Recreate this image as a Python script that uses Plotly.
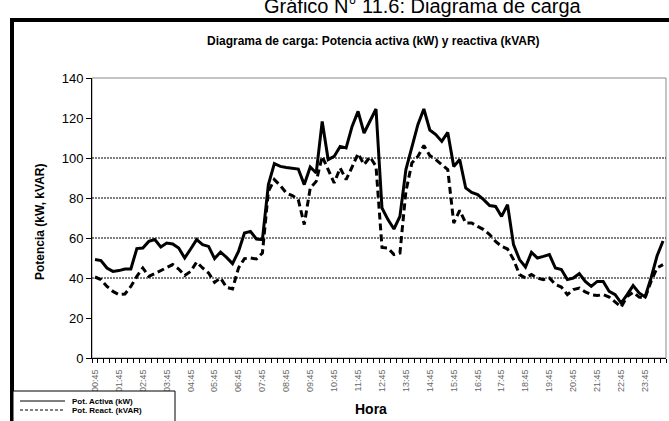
import plotly.graph_objects as go

# ---------------- data ----------------
horas = [f"{((45 + 15 * i) // 60) % 24:02d}:{(45 + 15 * i) % 60:02d}" for i in range(96)]
etiquetas_x = [h if i % 4 == 0 else "" for i, h in enumerate(horas)]

activa = [49.2, 48.7, 45.0, 43.3, 43.7, 44.5, 44.5, 54.7, 55.0, 58.3,
          59.2, 55.5, 57.5, 57.0, 55.0, 50.0, 54.5, 59.2, 56.7, 55.8,
          49.7, 53.0, 50.3, 47.2, 53.3, 62.5, 63.3, 59.5, 59.2, 86.7,
          97.2, 95.8, 95.3, 95.0, 94.5, 86.7, 95.5, 92.5, 118.3, 99.2,
          100.8, 105.8, 105.0, 115.8, 123.3, 112.5, 118.3, 124.5, 75.0, 69.2,
          64.5, 70.8, 94.2, 105.0, 116.7, 124.5, 114.0, 111.7, 108.3, 112.8,
          95.8, 99.2, 85.0, 82.8, 81.7, 79.2, 76.2, 75.8, 70.8, 76.7,
          56.7, 49.2, 45.5, 52.8, 50.0, 50.8, 51.7, 45.0, 44.2, 39.2,
          40.0, 42.2, 38.3, 35.8, 38.3, 38.3, 33.3, 31.7, 27.5, 31.7,
          36.2, 32.5, 30.5, 40.0, 51.0, 58.5]

reactiva = [40.5, 39.2, 35.8, 33.3, 31.7, 32.0, 35.8, 40.8, 45.0, 40.8,
            42.2, 43.8, 45.5, 46.7, 44.5, 41.2, 43.3, 48.0, 45.0, 42.5,
            37.8, 40.0, 35.3, 34.5, 45.0, 49.7, 50.0, 49.5, 52.5, 83.3,
            89.2, 86.2, 82.5, 81.2, 79.2, 66.7, 85.0, 88.3, 100.8, 94.2,
            87.5, 95.0, 89.2, 95.5, 102.2, 96.7, 100.5, 95.8, 55.3, 55.0,
            51.7, 52.5, 83.3, 97.5, 100.8, 106.2, 101.2, 99.2, 96.7, 94.2,
            67.5, 73.8, 67.5, 67.5, 65.8, 64.2, 61.7, 58.3, 55.8, 54.5,
            49.2, 41.7, 40.0, 41.7, 40.0, 39.2, 40.0, 36.7, 35.5, 31.7,
            34.2, 35.0, 33.0, 31.7, 31.2, 31.7, 30.5, 27.8, 25.5, 30.8,
            32.8, 30.5, 30.0, 38.3, 45.0, 46.7]

series_names = ["Pot. Activa (kW)", "Pot. React. (kVAR)"]
y_ticks = [0, 20, 40, 60, 80, 100, 120, 140]
grid_y = [40, 60, 80, 100]

# ---------------- layout geometry ----------------
W, H = 669, 421
ML, MR, MT, MB = 92, 3, 78, 63
PW, PH = W - ML - MR, H - MT - MB


def px(x):
    return (x - ML) / PW


def py(y):
    return (H - MB - y) / PH


FONT = "Arial, Liberation Sans, sans-serif"
DASH_MAIN = "7px,4px"

fig = go.Figure()
fig.add_trace(go.Scatter(x=horas, y=activa, mode="lines", name=series_names[0],
                         line=dict(color="black", width=3)))
fig.add_trace(go.Scatter(x=horas, y=reactiva, mode="lines", name=series_names[1],
                         line=dict(color="black", width=3, dash=DASH_MAIN)))

shapes = []
# plot area border
shapes.append(dict(type="rect", xref="paper", yref="paper", x0=0, x1=1, y0=0, y1=1,
                   line=dict(color="#8a8a8a", width=1), layer="below"))
for v in grid_y:
    shapes.append(dict(type="line", xref="paper", yref="y", x0=0, x1=1, y0=v, y1=v,
                       line=dict(color="black", width=1, dash="2px,1px"), layer="below"))
# thick outer frame
shapes.append(dict(type="rect", xref="paper", yref="paper", x0=px(12), x1=px(720),
                   y0=py(470), y1=py(20), line=dict(color="black", width=4)))
# legend box and samples
shapes.append(dict(type="rect", xref="paper", yref="paper", x0=px(13), x1=px(175),
                   y0=py(440), y1=py(391), fillcolor="white", line=dict(color="black", width=1)))
shapes.append(dict(type="line", xref="paper", yref="paper", x0=px(20), x1=px(65),
                   y0=py(401), y1=py(401), line=dict(color="black", width=1)))
shapes.append(dict(type="line", xref="paper", yref="paper", x0=px(20), x1=px(65),
                   y0=py(410), y1=py(410), line=dict(color="black", width=1, dash="3px,2px")))

annotations = [
    dict(text="Gráfico N° 11.6: Diagrama de carga", x=px(423), y=py(6), xref="paper", yref="paper",
         showarrow=False, font=dict(family=FONT, size=20, color="black"), xanchor="center", yanchor="middle"),
    dict(text="<b>Diagrama de carga: Potencia activa (kW) y reactiva (kVAR)</b>", x=px(373), y=py(41),
         xref="paper", yref="paper", showarrow=False, font=dict(family=FONT, size=12, color="black"),
         xanchor="center", yanchor="middle"),
    dict(text="<b>Potencia (kW, kVAR)</b>", x=px(40), y=py(222), xref="paper", yref="paper",
         showarrow=False, textangle=-90, font=dict(family=FONT, size=12, color="black"),
         xanchor="center", yanchor="middle"),
    dict(text="<b>Hora</b>", x=px(371), y=py(409), xref="paper", yref="paper", showarrow=False,
         font=dict(family=FONT, size=14, color="black"), xanchor="center", yanchor="middle"),
    dict(text="<b>" + series_names[0] + "</b>", x=px(70), y=py(401), xref="paper", yref="paper",
         showarrow=False, font=dict(family=FONT, size=8, color="black"), xanchor="left", yanchor="middle"),
    dict(text="<b>" + series_names[1] + "</b>", x=px(70), y=py(410), xref="paper", yref="paper",
         showarrow=False, font=dict(family=FONT, size=8, color="black"), xanchor="left", yanchor="middle"),
]

fig.update_layout(
    width=W, height=H,
    margin=dict(l=ML, r=MR, t=MT, b=MB, autoexpand=False),
    paper_bgcolor="white", plot_bgcolor="white",
    font=dict(family=FONT, color="black"),
    showlegend=False,
    shapes=shapes,
    annotations=annotations,
    xaxis=dict(type="category", range=[-0.5, 95.5], tickmode="array", tickvals=horas,
               ticktext=etiquetas_x, tickson="boundaries", ticks="outside", ticklen=4,
               tickcolor="black", showline=True, linecolor="black", linewidth=1,
               tickangle=-90, tickfont=dict(family=FONT, size=9, color="#666"),
               ticklabelstandoff=7,
               showgrid=False, zeroline=False, fixedrange=True),
    yaxis=dict(range=[0, 140], tickmode="array", tickvals=y_ticks, ticks="outside", ticklen=5,
               tickcolor="black", showline=True, linecolor="black", linewidth=1,
               tickfont=dict(family=FONT, size=13, color="black"), showgrid=False,
               zeroline=False, fixedrange=True),
)

fig.write_html("out.html", config={"displayModeBar": False},
               post_script="document.body.style.margin='0';document.body.style.overflow='hidden';")
